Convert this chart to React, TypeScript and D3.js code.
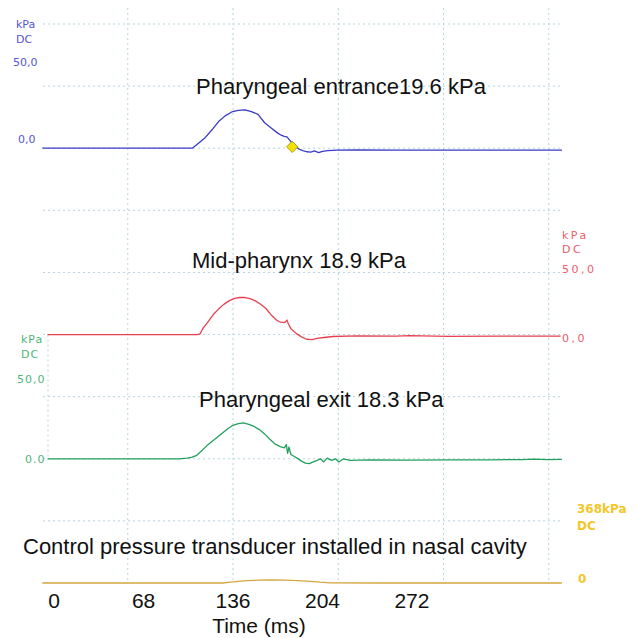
import React from 'react';
import * as d3 from 'd3';

// time axis
const tickLabels = [0, 68, 136, 204, 272];
const gridTimes = [56, 136, 216, 296, 376];

// Pharyngeal entrance (kPa)
const entranceT = [-9, 50, 100, 105, 110, 115, 120, 125, 130, 135, 140, 145, 150, 155, 160, 165, 170, 173, 175, 177, 180, 183, 186, 189, 192, 195, 198, 201, 204, 208, 215, 230, 260, 300, 340, 386];
const entranceKPa = [0, 0, 0, 0, 2.7, 5.5, 9.4, 13.6, 16.5, 18.5, 19.3, 19.6, 18.7, 17.3, 13.0, 10.3, 7.7, 6.5, 6.0, 5.8, 3.4, 1.2, -0.4, -1.2, -1.8, -2.0, -1.4, -2.2, -1.6, -1.2, -1.0, -0.9, -1.0, -1.0, -1.0, -1.0];
const markerT = 181;
const markerKPa = 0.7;

// Mid-pharynx (kPa)
const midT = [-5, 50, 100, 109, 111, 113, 117, 121, 125, 129, 133, 137, 141, 145, 149, 153, 157, 161, 165, 169, 172, 175, 176, 177, 178, 180, 184, 188, 192, 196, 200, 205, 212, 230, 260, 270, 300, 340, 385];
const midKPa = [0, 0, 0, 0, 0.4, 3.0, 6.5, 10.2, 13.0, 15.4, 17.2, 18.5, 18.9, 18.9, 18.3, 17.2, 15.5, 13.3, 10.0, 7.4, 6.3, 6.1, 6.6, 7.4, 5.5, 3.0, 0.6, -1.2, -2.4, -2.6, -2.0, -1.5, -1.0, -0.7, -0.8, -0.5, -0.9, -0.8, -0.8];

// Pharyngeal exit (kPa)
const exitT = [-5, 50, 95, 101, 105, 108, 112, 116, 120, 124, 128, 132, 136, 140, 144, 148, 152, 156, 160, 164, 168, 172, 175, 176.5, 177.5, 178.5, 180, 182, 185, 188, 191, 194, 197, 200, 202.5, 205, 207.5, 211, 214, 216.5, 220, 225, 240, 270, 300, 330, 355, 365, 375, 386];
const exitKPa = [0, 0, 0, 0.3, 0.8, 1.6, 4.0, 6.6, 8.8, 11.0, 13.2, 15.3, 17.1, 17.9, 18.3, 17.6, 16.5, 14.9, 12.7, 10.0, 7.5, 6.2, 5.6, 7.2, 2.8, 6.0, 2.2, 1.4, 0.2, -1.2, -2.2, -2.5, -1.6, -0.8, 0, -1.6, 0.3, -0.8, 0, -1.6, 0, -0.8, -0.6, -0.7, -0.6, -0.6, -0.4, -0.2, -0.4, -0.3];

// Control transducer, nasal cavity (kPa)
const nasalT = [-9, 100, 128, 134, 140, 146, 155, 165, 175, 185, 195, 202, 210, 250, 300, 386];
const nasalKPa = [0, 0, 0, 4, 8, 12, 14, 15, 14, 12, 8, 4, 1, 0, 0, 0];

const W = 637;
const H = 638;
const titleFont = '"Liberation Sans", Arial, sans-serif';
const smallFont = '"DejaVu Sans", Verdana, sans-serif';

export default function App() {
  const x = d3.scaleLinear().domain([0, 272]).range([54.1, 54.1 + 1.3156 * 272]);
  const gridY = d3.scaleLinear().domain([0, 9]).range([24, 583]);
  const gridRows = d3.range(0, 9);

  const chanScale = (row: number) =>
    d3.scaleLinear().domain([0, 50]).range([gridY(row), gridY(row) - 98]);
  const yEntrance = chanScale(2);
  const yMid = chanScale(5);
  const yExit = chanScale(7);
  const yNasal = d3.scaleLinear().domain([0, 368]).range([gridY(9), gridY(9) - 73]);

  const makePath = (ts: number[], vs: number[], y: d3.ScaleLinear<number, number>) =>
    d3.line<number>().x((_, i) => x(ts[i])).y(v => y(v))(vs) || '';

  const traces = [
    { d: makePath(nasalT, nasalKPa, yNasal), color: '#d4a640' },
    { d: makePath(exitT, exitKPa, yExit), color: '#22a05e' },
    { d: makePath(midT, midKPa, yMid), color: '#e8404f' },
    { d: makePath(entranceT, entranceKPa, yEntrance), color: '#3a3ac8' },
  ];

  const diamond = d3.symbol().type(d3.symbolSquare).size(64)() || '';

  const small = (color: string, ls = 0) => ({
    fontFamily: smallFont, fontSize: 11, fill: color, letterSpacing: ls,
  });

  return (
    <svg width={W} height={H} style={{ position: 'absolute', left: 0, top: 0, background: '#fff' }}>
      {/* grid */}
      <g stroke="#b3d5e2" strokeWidth={1} strokeDasharray="2,3" fill="none">
        {gridTimes.map(t => (
          <line key={'v' + t} x1={x(t)} x2={x(t)} y1={8} y2={580} />
        ))}
        {gridRows.map(r => (
          <line key={'h' + r} x1={43} x2={562} y1={gridY(r)} y2={gridY(r)} />
        ))}
        {/* exit channel's own axis */}
        <line x1={48} x2={48} y1={gridY(5)} y2={gridY(7)} />
      </g>

      {/* traces */}
      {traces.map((t, i) => (
        <path key={i} d={t.d} fill="none" stroke={t.color} strokeWidth={1.3} strokeLinejoin="round" />
      ))}
      <path d={diamond} transform={`translate(${x(markerT)},${yEntrance(markerKPa)}) rotate(45)`}
        fill="#f4e200" stroke="#9c9000" strokeWidth={0.8} />

      {/* titles */}
      <g fontFamily={titleFont} fontSize={22} fill="#111">
        <text x={196} y={94}>Pharyngeal entrance19.6 kPa</text>
        <text x={192} y={268}>Mid-pharynx 18.9 kPa</text>
        <text x={199} y={407}>Pharyngeal exit 18.3 kPa</text>
        <text x={23} y={554}>Control pressure transducer installed in nasal cavity</text>
      </g>

      {/* time axis labels */}
      <g fontFamily={titleFont} fontSize={21} fill="#111" textAnchor="middle">
        {tickLabels.map(t => (
          <text key={t} x={x(t)} y={608}>{t}</text>
        ))}
        <text x={259} y={633}>Time (ms)</text>
      </g>

      {/* channel labels: entrance */}
      <g style={small('#5555d6')}>
        <text x={16} y={28}>kPa</text>
        <text x={16} y={43}>DC</text>
        <text x={13} y={66}>50,0</text>
        <text x={18} y={143}>0,0</text>
      </g>
      {/* mid */}
      <g style={small('#ef5b6b', 2.5)}>
        <text x={562} y={239}>kPa</text>
        <text x={562} y={253}>DC</text>
        <text x={562} y={273}>50,0</text>
        <text x={562} y={342}>0,0</text>
      </g>
      {/* exit */}
      <g style={small('#4db577', 1)}>
        <text x={21} y={343}>kPa</text>
        <text x={21} y={358}>DC</text>
        <text x={17} y={383}>50,0</text>
        <text x={25} y={463}>0.0</text>
      </g>
      {/* nasal */}
      <g style={{ fontFamily: smallFont, fontSize: 12, fontWeight: 'bold', fill: '#f4c62a' }}>
        <text x={577} y={513}>368kPa</text>
        <text x={577} y={530}>DC</text>
        <text x={578} y={583}>0</text>
      </g>
    </svg>
  );
}
